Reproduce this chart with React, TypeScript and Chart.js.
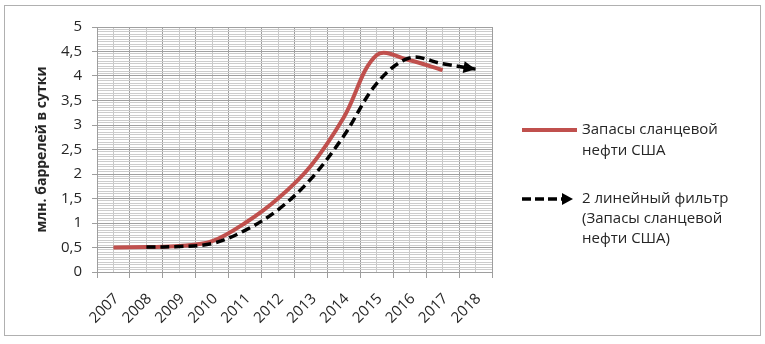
import React, { useEffect, useRef } from 'react';
import { Chart, registerables } from 'chart.js';

Chart.register(...registerables);

// ---- data ----
const years = [2007, 2008, 2009, 2010, 2011, 2012, 2013, 2014, 2015, 2016, 2017, 2018];
const yearLabels = years.map(String);

const shaleYears = [2007, 2008, 2009, 2010, 2011, 2012, 2013, 2014, 2015, 2016, 2017];
const shaleValues = [0.5, 0.51, 0.53, 0.63, 1.0, 1.5, 2.17, 3.16, 4.43, 4.32, 4.12];

const filterYears = [2008, 2009, 2010, 2011, 2012, 2013, 2014, 2015, 2016, 2017, 2018];
const filterValues = [0.51, 0.52, 0.58, 0.85, 1.27, 1.9, 2.78, 3.85, 4.37, 4.25, 4.14];

const yTitle = 'млн. баррелей в сутки';
const seriesNames = ['Запасы сланцевой нефти США', '2 линейный фильтр (Запасы сланцевой нефти США)'];
const legendLines = [
  ['Запасы сланцевой', 'нефти США'],
  ['2 линейный фильтр', '(Запасы сланцевой', 'нефти США)'],
];

const FONT = "'Open Sans', sans-serif";
const TEXT = '#262626';
const RED = '#C0504D';

const isMajorY = (v: any) => typeof v === 'number' && Math.abs(v * 2 - Math.round(v * 2)) < 1e-6;
const isBoundaryX = (v: any) => typeof v === 'number' && Math.abs(v - Math.floor(v) - 0.5) < 1e-6;
const fmtY = (v: number) => {
  const r = Math.round(v * 10) / 10;
  return Number.isInteger(r) ? String(r) : String(r).replace('.', ',');
};

const framePlugin = {
  id: 'frame',
  beforeDraw(chart: any) {
    const ctx = chart.ctx;
    ctx.save();
    ctx.fillStyle = '#ffffff';
    ctx.fillRect(0, 0, chart.width, chart.height);
    ctx.strokeStyle = '#b0b0b0';
    ctx.lineWidth = 1;
    ctx.strokeRect(4.5, 5.5, 756, 330);
    ctx.restore();
  },
};

function drawArrowHead(ctx: CanvasRenderingContext2D, x: number, y: number, ang: number, len: number, half: number) {
  ctx.beginPath();
  ctx.moveTo(x, y);
  ctx.lineTo(x - len * Math.cos(ang) + half * Math.sin(ang), y - len * Math.sin(ang) - half * Math.cos(ang));
  ctx.lineTo(x - len * Math.cos(ang) - half * Math.sin(ang), y - len * Math.sin(ang) + half * Math.cos(ang));
  ctx.closePath();
  ctx.fill();
}

const arrowPlugin = {
  id: 'arrow',
  afterDatasetsDraw(chart: any) {
    const meta = chart.getDatasetMeta(1);
    const pts = meta.data;
    if (!pts || pts.length < 2) return;
    const last = pts[pts.length - 1];
    const prev = pts[pts.length - 2];
    const fx = last.cp1x != null ? last.cp1x : prev.x;
    const fy = last.cp1y != null ? last.cp1y : prev.y;
    const ang = Math.atan2(last.y - fy, last.x - fx);
    const ctx = chart.ctx;
    ctx.save();
    ctx.fillStyle = '#000';
    drawArrowHead(ctx, last.x, last.y, ang, 12, 6);
    ctx.restore();
  },
};

const legendPlugin = {
  id: 'customLegend',
  afterDraw(chart: any) {
    const ctx = chart.ctx;
    ctx.save();
    ctx.strokeStyle = RED;
    ctx.lineWidth = 4;
    ctx.beginPath();
    ctx.moveTo(522, 130);
    ctx.lineTo(577, 130);
    ctx.stroke();
    ctx.strokeStyle = '#000';
    ctx.lineWidth = 3.5;
    ctx.setLineDash([9, 4]);
    ctx.beginPath();
    ctx.moveTo(522, 199);
    ctx.lineTo(563, 199);
    ctx.stroke();
    ctx.setLineDash([]);
    ctx.fillStyle = '#000';
    drawArrowHead(ctx, 573, 199, 0, 11, 6);

    ctx.fillStyle = TEXT;
    ctx.font = `15px ${FONT}`;
    ctx.textBaseline = 'middle';
    ctx.textAlign = 'left';
    const ys = [[130, 151], [199, 219, 239]];
    legendLines.forEach((lines, i) => {
      lines.forEach((t, j) => ctx.fillText(t, 582, ys[i][j]));
    });
    ctx.restore();
  },
};

export default function App() {
  const ref = useRef<HTMLCanvasElement | null>(null);

  useEffect(() => {
    document.body.style.margin = '0';
    if (!ref.current) return;
    const chart = new Chart(ref.current, {
      type: 'line',
      data: {
        datasets: [
          {
            label: seriesNames[0],
            data: shaleYears.map((x, i) => ({ x, y: shaleValues[i] })),
            borderColor: RED,
            backgroundColor: RED,
            borderWidth: 4,
            pointRadius: 0,
            tension: 0.35,
            fill: false,
            order: 1,
          },
          {
            label: seriesNames[1],
            data: filterYears.map((x, i) => ({ x, y: filterValues[i] })),
            borderColor: '#000000',
            backgroundColor: '#000000',
            borderWidth: 3.5,
            borderDash: [9, 5],
            pointRadius: 0,
            tension: 0.35,
            fill: false,
            order: 0,
          },
        ],
      },
      options: {
        animation: false,
        responsive: false,
        maintainAspectRatio: false,
        layout: { padding: { left: 34, top: 27, right: 273, bottom: 0 } },
        plugins: { legend: { display: false }, tooltip: { enabled: false } },
        scales: {
          x: {
            type: 'linear',
            min: 2006.5,
            max: 2018.5,
            afterBuildTicks: (axis: any) => {
              axis.ticks = Array.from({ length: 25 }, (_, i) => ({ value: 2006.5 + i * 0.5 }));
            },
            afterFit: (axis: any) => {
              axis.height = 72;
            },
            ticks: {
              autoSkip: false,
              minRotation: 45,
              maxRotation: 45,
              padding: 12,
              labelOffset: 3,
              color: TEXT,
              font: { family: FONT, size: 15 },
              callback: (v: any) => {
                const idx = years.indexOf(v);
                return idx >= 0 ? yearLabels[idx] : '';
              },
            },
            grid: {
              color: (c: any) => (isBoundaryX(c.tick?.value) ? '#9e9e9e' : '#c8c8c8'),
              tickColor: (c: any) => (isBoundaryX(c.tick?.value) ? '#9e9e9e' : 'rgba(0,0,0,0)'),
              tickLength: 6,
              lineWidth: 1,
            },
            border: { color: '#9e9e9e' },
          },
          y: {
            type: 'linear',
            min: 0,
            max: 5,
            afterBuildTicks: (axis: any) => {
              axis.ticks = Array.from({ length: 101 }, (_, i) => ({ value: i / 20 }));
            },
            afterFit: (axis: any) => {
              axis.width = 63;
            },
            ticks: {
              autoSkip: false,
              padding: 10,
              color: TEXT,
              font: { family: FONT, size: 15 },
              callback: (v: any) => (isMajorY(v) ? fmtY(v) : ''),
            },
            grid: {
              color: (c: any) => (isMajorY(c.tick?.value) ? '#a0a0a0' : '#cccccc'),
              tickColor: (c: any) => (isMajorY(c.tick?.value) ? '#9e9e9e' : 'rgba(0,0,0,0)'),
              tickLength: 5,
              lineWidth: 1,
            },
            border: { color: '#9e9e9e' },
            title: {
              display: true,
              text: yTitle,
              color: TEXT,
              font: { family: FONT, size: 14, weight: 'bold' },
              padding: 0,
            },
          },
        },
      },
      plugins: [framePlugin, arrowPlugin, legendPlugin],
    } as any);
    return () => chart.destroy();
  }, []);

  return (
    <div style={{ width: 765, height: 344 }}>
      <canvas ref={ref} width={765} height={344} style={{ display: 'block' }} />
    </div>
  );
}
